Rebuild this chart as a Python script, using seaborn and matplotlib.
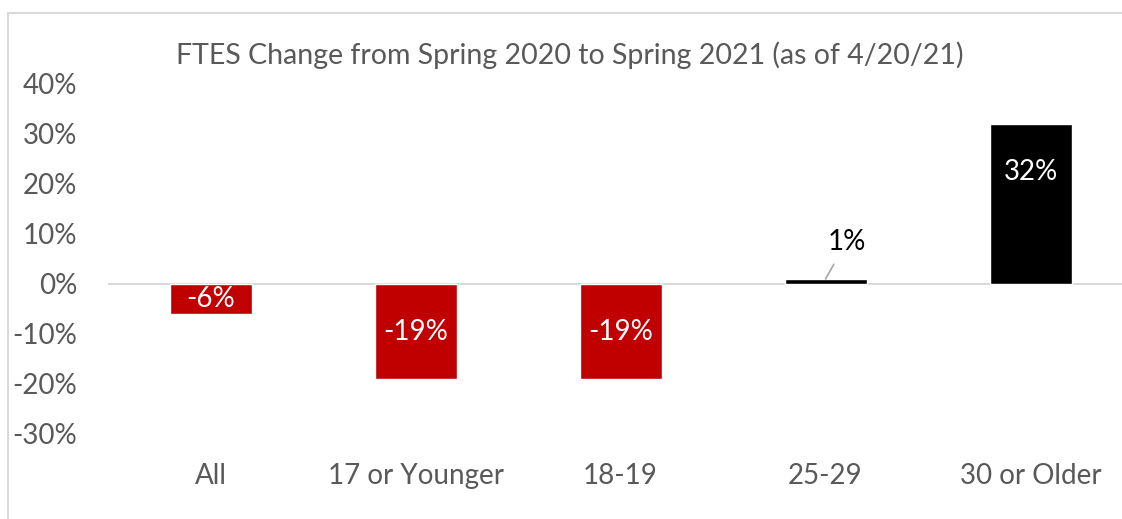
import matplotlib
matplotlib.use("Agg")
import matplotlib.pyplot as plt
import matplotlib.patches as patches
from matplotlib.ticker import FuncFormatter
import seaborn as sns

# data
categories = ["All", "17 or Younger", "18-19", "25-29", "30 or Older"]
values = [-6, -19, -19, 1, 32]
y_ticks = [-30, -20, -10, 0, 10, 20, 30, 40]
title = "FTES Change from Spring 2020 to Spring 2021 (as of 4/20/21)"

RED = "#C00000"
BLACK = "#000000"
GREY_TEXT = "#595959"
GREY_LINE = "#D9D9D9"
FS = 20

sns.set_style("white")
plt.rcParams["font.family"] = ["Lato", "DejaVu Sans"]

fig = plt.figure(figsize=(11.22, 5.19), dpi=100)
ax = fig.add_axes([108 / 1122, 1 - 434 / 519, 1025 / 1122, 350 / 519])

colors = [RED if v < 0 else BLACK for v in values]
sns.barplot(x=categories, y=values, hue=categories, palette=colors,
            legend=False, width=0.4, saturation=1, ax=ax)

ax.set_ylim(-30, 40)
ax.set_xlim(-0.5, len(categories) - 0.5)
ax.set_yticks(y_ticks)
ax.yaxis.set_major_formatter(FuncFormatter(lambda v, _: f"{v:.0f}%"))
ax.tick_params(axis="y", length=0, pad=22, labelsize=FS, labelcolor=GREY_TEXT)
ax.tick_params(axis="x", length=0, pad=21, labelsize=FS, labelcolor=GREY_TEXT)
ax.set_xlabel("")
ax.set_ylabel("")
for s in ax.spines.values():
    s.set_visible(False)
ax.axhline(0, color=GREY_LINE, lw=1.5, zorder=0)

# data labels
for i, v in enumerate(values):
    if v < 0:
        ax.text(i, v / 2, f"{v}%", ha="center", va="center", color="white", fontsize=FS)
    elif v >= 10:
        ax.annotate(f"{v}%", xy=(i, v), xytext=(0, -48), textcoords="offset pixels",
                    ha="center", va="center", color="white", fontsize=FS)
    else:
        ax.annotate(f"{v}%", xy=(i, v), xytext=(21, 37), textcoords="offset pixels",
                    ha="center", va="center", color=BLACK, fontsize=FS,
                    arrowprops=dict(arrowstyle="-", color="#A6A6A6", lw=1.2,
                                    shrinkA=5, shrinkB=0))

fig.text(570 / 1122, 1 - 55 / 519, title, ha="center", va="center",
         color=GREY_TEXT, fontsize=20.5)

# chart area border (cropped on right and bottom)
fig.patches.append(patches.Rectangle((8 / 1122, -0.1), 1.2, 1 - 13 / 519 + 0.1,
                                     transform=fig.transFigure, fill=False,
                                     edgecolor=GREY_LINE, lw=1.5))

fig.savefig("out.png", dpi=100)
